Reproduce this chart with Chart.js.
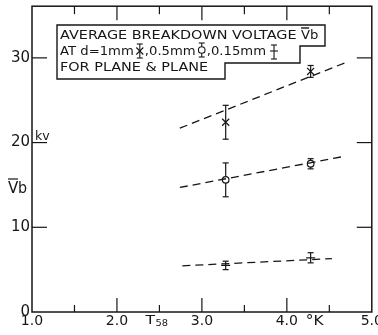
<!DOCTYPE html>
<html>
<head>
<meta charset="utf-8">
<script src="https://cdn.jsdelivr.net/npm/chart.js@4.4.1/dist/chart.umd.min.js"></script>
<style>
  html, body { margin: 0; padding: 0; background: #fff; }
  canvas { display: block; }
</style>
</head>
<body>
<canvas id="chart" width="378" height="335"></canvas>
<script>
// measured points (temperature in K, breakdown voltage in kV)
const temperatures = [3.28, 4.28];
const vb1mm = [22.4, 28.4];
const err1mm = [2.0, 0.7];
const vb05mm = [15.6, 17.5];
const err05mm = [2.0, 0.6];
const vb015mm = [5.5, 6.4];
const err015mm = [0.5, 0.6];

// dashed fit lines, two end points each
const fit1mmT = [2.74, 4.68];
const fit1mmV = [21.7, 29.4];
const fit05mmT = [2.74, 4.69];
const fit05mmV = [14.7, 18.4];
const fit015mmT = [2.77, 4.53];
const fit015mmV = [5.45, 6.3];

const xMajorTicks = [2, 3, 4];
const xMinorTicks = [1.5, 2.5, 3.5, 4.5];
const yTicks = [10, 20, 30];
const lambdaPoint = 2.5; // T58 mark

const INK = '#161616';
const FONT = 'DejaVu Sans';

const points = (xs, ys) => xs.map((x, i) => ({ x, y: ys[i] }));

function line(ctx, x1, y1, x2, y2) {
  ctx.beginPath();
  ctx.moveTo(x1, y1);
  ctx.lineTo(x2, y2);
  ctx.stroke();
}

// lettering stretched sideways by sx
function letter(ctx, str, x, y, size, sx = 1) {
  ctx.save();
  ctx.font = `${size}px "${FONT}"`;
  ctx.translate(x, y);
  ctx.scale(sx, 1);
  ctx.fillText(str, 0, 0);
  const w = ctx.measureText(str).width * sx;
  ctx.restore();
  return w;
}

function errorBar(ctx, px, top, bottom) {
  line(ctx, px, top, px, bottom);
  line(ctx, px - 3, top, px + 3, top);
  line(ctx, px - 3, bottom, px + 3, bottom);
}

function legendSymbol(ctx, kind, cx, cy) {
  ctx.save();
  ctx.strokeStyle = INK;
  ctx.lineWidth = 1.1;
  errorBar(ctx, cx, cy - 7, cy + 7);
  if (kind === 'x') {
    line(ctx, cx - 3.5, cy - 3.5, cx + 3.5, cy + 3.5);
    line(ctx, cx + 3.5, cy - 3.5, cx - 3.5, cy + 3.5);
  } else if (kind === 'o') {
    ctx.fillStyle = '#fff';
    ctx.beginPath();
    ctx.arc(cx, cy, 3.3, 0, Math.PI * 2);
    ctx.fill();
    ctx.stroke();
  } else {
    line(ctx, cx - 4, cy - 1, cx + 4, cy - 1);
  }
  ctx.restore();
}

const errorBarPlugin = {
  id: 'errorBars',
  beforeDatasetsDraw(chart) {
    const { ctx, scales: { x, y } } = chart;
    ctx.save();
    ctx.strokeStyle = INK;
    ctx.lineWidth = 1.2;
    [[vb1mm, err1mm], [vb05mm, err05mm], [vb015mm, err015mm]].forEach(([vals, errs]) => {
      vals.forEach((v, i) => {
        errorBar(ctx, x.getPixelForValue(temperatures[i]), y.getPixelForValue(v + errs[i]), y.getPixelForValue(v - errs[i]));
      });
    });
    ctx.restore();
  }
};

const framePlugin = {
  id: 'frame',
  afterDraw(chart) {
    const { ctx, scales: { x, y } } = chart;
    const L = x.getPixelForValue(x.min), R = x.getPixelForValue(x.max);
    const T = y.getPixelForValue(y.max), B = y.getPixelForValue(y.min);
    ctx.save();
    ctx.strokeStyle = INK;
    ctx.fillStyle = INK;
    ctx.lineWidth = 1.5;
    ctx.strokeRect(L, T, R - L, B - T);
    ctx.lineWidth = 1.2;
    xMajorTicks.forEach(v => {
      const px = x.getPixelForValue(v);
      line(ctx, px, B, px, B - 14);
      line(ctx, px, T, px, T + 14);
    });
    xMinorTicks.forEach(v => {
      const px = x.getPixelForValue(v);
      line(ctx, px, B, px, B - 7);
      line(ctx, px, T, px, T + 8);
    });
    yTicks.forEach(v => {
      const py = y.getPixelForValue(v);
      line(ctx, L, py, L + 15, py);
      line(ctx, R, py, R - 15, py);
    });

    // axis extras
    ctx.textBaseline = 'alphabetic';
    letter(ctx, 'kv', L + 3, y.getPixelForValue(20) - 3, 12, 1.05);
    letter(ctx, 'V', 8, 193, 15, 1.0);
    letter(ctx, 'b', 18, 193, 15, 0.95);
    line(ctx, 8, 179, 18, 179);
    const tx = x.getPixelForValue(lambdaPoint) - 14;
    letter(ctx, 'T', tx, 324, 13, 1.2);
    letter(ctx, '58', tx + 10, 326, 9, 1.1);
    letter(ctx, '°K', x.getPixelForValue(4) + 19, 325, 14, 1.1);

    // legend box
    ctx.lineWidth = 1.4;
    ctx.beginPath();
    ctx.moveTo(57, 25);
    ctx.lineTo(325, 25);
    ctx.lineTo(325, 46);
    ctx.lineTo(300, 46);
    ctx.lineTo(300, 63);
    ctx.lineTo(225, 63);
    ctx.lineTo(225, 79);
    ctx.lineTo(57, 79);
    ctx.closePath();
    ctx.fillStyle = '#fff';
    ctx.fill();
    ctx.stroke();
    ctx.fillStyle = INK;

    let cx = 60;
    cx += letter(ctx, 'AVERAGE BREAKDOWN VOLTAGE ', cx, 39, 12, 1.2);
    letter(ctx, 'V', cx, 39, 12, 1.1);
    line(ctx, cx, 28, cx + 8, 28);
    letter(ctx, 'b', cx + 9, 39, 12, 1.1);

    cx = 60;
    cx += letter(ctx, 'AT d=1mm', cx, 55, 12, 1.1);
    legendSymbol(ctx, 'x', cx + 6, 51);
    cx += 11;
    cx += letter(ctx, ',0.5mm', cx, 55, 12, 1.1);
    legendSymbol(ctx, 'o', cx + 6, 50);
    cx += 11;
    cx += letter(ctx, ',0.15mm', cx, 55, 12, 1.1);
    legendSymbol(ctx, 'line', cx + 8, 52);

    letter(ctx, 'FOR PLANE & PLANE', 60, 71, 12, 1.2);
    ctx.restore();
  }
};

const dashed = (label, xs, ys) => ({
  label, data: points(xs, ys), showLine: true, pointRadius: 0,
  borderColor: INK, borderWidth: 1.3, borderDash: [8, 5]
});
const marker = (label, ys, style, radius) => ({
  label, data: points(temperatures, ys), showLine: false,
  pointStyle: style, pointRadius: radius, pointBorderColor: INK,
  pointBackgroundColor: '#fff', pointBorderWidth: 1.2
});

new Chart(document.getElementById('chart'), {
  type: 'scatter',
  data: {
    datasets: [
      dashed('1mm fit', fit1mmT, fit1mmV),
      dashed('0.5mm fit', fit05mmT, fit05mmV),
      dashed('0.15mm fit', fit015mmT, fit015mmV),
      marker('d = 1mm', vb1mm, 'crossRot', 5),
      marker('d = 0.5mm', vb05mm, 'circle', 3.3),
      marker('d = 0.15mm', vb015mm, 'line', 4.5),
    ]
  },
  options: {
    responsive: false,
    animation: false,
    devicePixelRatio: 1,
    layout: { padding: { left: 0, right: 5, top: 5, bottom: 0 } },
    plugins: { legend: { display: false }, tooltip: { enabled: false } },
    scales: {
      x: {
        type: 'linear', min: 1, max: 5,
        grid: { display: false }, border: { display: false },
        ticks: {
          stepSize: 0.5, autoSkip: false, maxRotation: 0, padding: -7, color: INK,
          font: { family: FONT, size: 14 },
          callback: v => Number.isInteger(v) ? v.toFixed(1) : ''
        },
        afterFit: s => { s.height = 23; s.paddingLeft = 0; s.paddingRight = 0; }
      },
      y: {
        min: 0, max: 36.1,
        grid: { display: false }, border: { display: false },
        ticks: {
          stepSize: 10, padding: -6, color: INK,
          font: { family: FONT, size: 15 },
          callback: v => v % 10 === 0 ? v : ''
        },
        afterFit: s => { s.width = 32; s.paddingTop = 0; s.paddingBottom = 0; }
      }
    }
  },
  plugins: [errorBarPlugin, framePlugin]
});
</script>
</body>
</html>
